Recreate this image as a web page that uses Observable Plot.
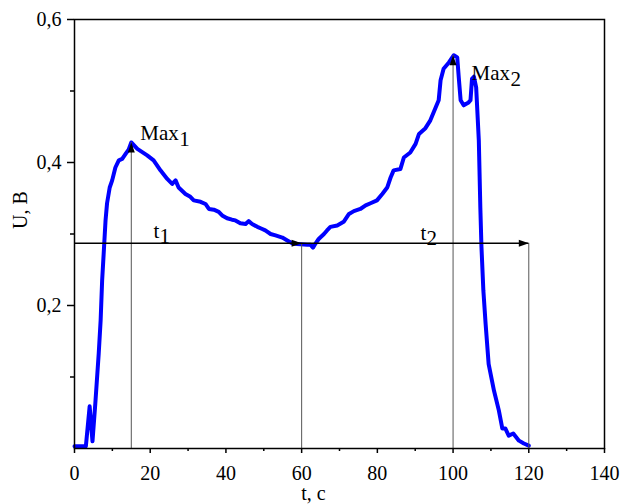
<!DOCTYPE html>
<html>
<head>
<meta charset="utf-8">
<script src="https://cdn.jsdelivr.net/npm/d3@7"></script>
<script src="https://cdn.jsdelivr.net/npm/@observablehq/plot@0.6"></script>
<style>
  html, body { margin: 0; padding: 0; background: #fff; }
  #chart svg { display: block; }
  #chart svg text, #chart svg g { font-family: "Liberation Serif", "Times New Roman", Times, "DejaVu Serif", serif !important; }
</style>
</head>
<body>
<div id="chart"></div>
<script>
// Curve: time t (s) and voltage U (V)
const tVals = [0, 3.0, 4.0, 4.75, 5.5, 6.4, 6.9, 7.3, 7.7, 8.2, 8.6, 9.3, 9.95, 10.8, 11.7, 12.6, 13.5, 14.3, 15.0,
  16.6, 19.2, 20.9, 22.7, 24.5, 25.8, 26.7, 27.5, 29.3, 30.6, 31.5, 33.3, 34.6, 35.5, 36.8, 38.1, 39.0, 40.3, 41.6, 42.5,
  43.8, 45.2, 46.0, 46.9, 48.3, 49.6, 50.4, 51.8, 53.1, 54.9, 56.2, 57.5, 58.8, 61.5, 62.3, 63.0, 63.7, 64.5, 65.9, 66.7,
  67.6, 69.4, 71.1, 72.5, 73.8, 75.5, 76.9, 78.2, 79.9, 81.3, 82.6, 83.5, 84.3, 86.1, 87.0, 88.7, 90.1, 91.0, 92.7, 94.0,
  95.4, 96.2, 96.7, 97.5, 98.9, 100.2, 101.1, 101.5, 102.0, 102.8, 104.1, 104.6, 105.0, 105.5, 106.1, 106.8, 107.2, 107.5,
  108.0, 108.6, 109.4, 110.8, 112.1, 113.0, 113.8, 114.7, 115.9, 117.4, 118.7, 120.0];
const uVals = [0.003, 0.003, 0.059, 0.010, 0.063, 0.133, 0.179, 0.235, 0.272, 0.319, 0.343, 0.365, 0.375, 0.393, 0.403, 0.405, 0.412, 0.418, 0.428,
  0.419, 0.410, 0.403, 0.389, 0.377, 0.370, 0.375, 0.365, 0.356, 0.352, 0.347, 0.345, 0.342, 0.335, 0.334, 0.331, 0.326, 0.322, 0.320, 0.319,
  0.315, 0.314, 0.318, 0.314, 0.310, 0.307, 0.305, 0.300, 0.298, 0.295, 0.291, 0.287, 0.286, 0.285, 0.285, 0.281, 0.287, 0.293, 0.300, 0.305,
  0.310, 0.312, 0.317, 0.328, 0.332, 0.335, 0.340, 0.343, 0.347, 0.356, 0.365, 0.379, 0.389, 0.391, 0.407, 0.414, 0.426, 0.440, 0.448, 0.459,
  0.477, 0.487, 0.515, 0.531, 0.540, 0.550, 0.547, 0.519, 0.487, 0.480, 0.484, 0.487, 0.517, 0.520, 0.505, 0.431, 0.337, 0.282,
  0.221, 0.174, 0.118, 0.081, 0.053, 0.028, 0.028, 0.018, 0.021, 0.011, 0.007, 0.004];

// Annotation values
const levelU = 0.287;
const levelT = [0, 120];
const markT = [15, 60, 100, 120];
const markU = [0.428, 0.287, 0.55, 0.287];
const upArrowT = [15, 100];
const upArrowU = [0.428, 0.55];
const rightArrowT = [60, 120];

// Labels: "Max" with subscripts, "t" with subscripts
const maxSub = ["1", "2"];
const maxT = [17.4, 104.9];
const maxU = [0.432, 0.515];
const tSub = ["1", "2"];
const tT = [20.9, 91.4];
const tU = [0.294, 0.292];

// Axis ticks
const xMajor = [0, 20, 40, 60, 80, 100, 120, 140];
const xMinor = [10, 30, 50, 70, 90, 110, 130];
const yMajor = [0.2, 0.4, 0.6];
const yMinor = [0.1, 0.3, 0.5];

const curve = tVals.map((t, i) => ({t, u: uVals[i]}));
const vlines = markT.map((t, i) => ({t, u: markU[i]}));
const ups = upArrowT.map((t, i) => ({t, u: upArrowU[i]}));
const rights = rightArrowT.map(t => ({t, u: levelU}));
const maxLabels = maxSub.map((sub, i) => ({sub, t: maxT[i], u: maxU[i]}));
const tLabels = tSub.map((sub, i) => ({sub, t: tT[i], u: tU[i]}));

const arrowHead = {
  draw(context) {
    context.moveTo(0, 0);
    context.lineTo(-3.5, 10);
    context.lineTo(3.5, 10);
    context.closePath();
  }
};

const font = "Liberation Serif";
const fmtY = d => d3.format(".1f")(d).replace(".", ",");
const txt = {fontFamily: font, fill: "black", textAnchor: "start", lineAnchor: "bottom"};

const chart = Plot.plot({
  width: 622,
  height: 504,
  marginLeft: 74,
  marginRight: 18,
  marginTop: 19,
  marginBottom: 56,
  style: {fontFamily: font, fontSize: "20px", color: "black", background: "white"},
  x: {domain: [0, 140]},
  y: {domain: [0, 0.6]},
  marks: [
    Plot.line(curve, {x: "t", y: "u", stroke: "#0000ff", strokeWidth: 4, strokeLinejoin: "round", strokeLinecap: "round"}),
    Plot.ruleX(vlines, {x: "t", y1: 0, y2: "u", stroke: "#555", strokeWidth: 1}),
    Plot.ruleY([levelU], {y: d => d, x1: levelT[0], x2: levelT[1], stroke: "black", strokeWidth: 1.5}),
    Plot.dot(ups, {x: "t", y: "u", symbol: arrowHead, fill: "black", stroke: "none"}),
    Plot.dot(rights, {x: "t", y: "u", symbol: arrowHead, fill: "black", stroke: "none", rotate: 90}),
    Plot.text(maxLabels, {...txt, x: "t", y: "u", text: () => "Max", fontSize: 21}),
    Plot.text(maxLabels, {...txt, x: "t", y: "u", text: "sub", fontSize: 21, dx: 39, dy: 6}),
    Plot.text(tLabels, {...txt, x: "t", y: "u", text: () => "t", fontSize: 21}),
    Plot.text(tLabels, {...txt, x: "t", y: "u", text: "sub", fontSize: 21, dx: 6, dy: 5}),
    Plot.frame({stroke: "black", strokeWidth: 1.5}),
    Plot.axisX({ticks: xMajor, tickSize: 5, tickPadding: 12, tickFormat: d => d, label: null, stroke: "black", strokeWidth: 1.5, fontSize: 20, fontFamily: font}),
    Plot.axisX({ticks: xMinor, tickSize: 3, tickFormat: () => "", label: null, stroke: "black", strokeWidth: 1.5}),
    Plot.axisY({ticks: yMajor, tickSize: 7, tickPadding: 6, tickFormat: fmtY, label: null, stroke: "black", strokeWidth: 1.5, fontSize: 20, fontFamily: font}),
    Plot.axisY({ticks: yMinor, tickSize: 4, tickFormat: () => "", label: null, stroke: "black", strokeWidth: 1.5}),
    Plot.text(["U, B"], {frameAnchor: "left", rotate: -90, dx: -54, dy: -5, fontSize: 20, fontFamily: font, fill: "black"}),
    Plot.text(["t, c"], {frameAnchor: "bottom", dx: -26, dy: 51, lineAnchor: "bottom", fontSize: 20, fontFamily: font, fill: "black"})
  ]
});

document.getElementById("chart").appendChild(chart);
</script>
</body>
</html>
